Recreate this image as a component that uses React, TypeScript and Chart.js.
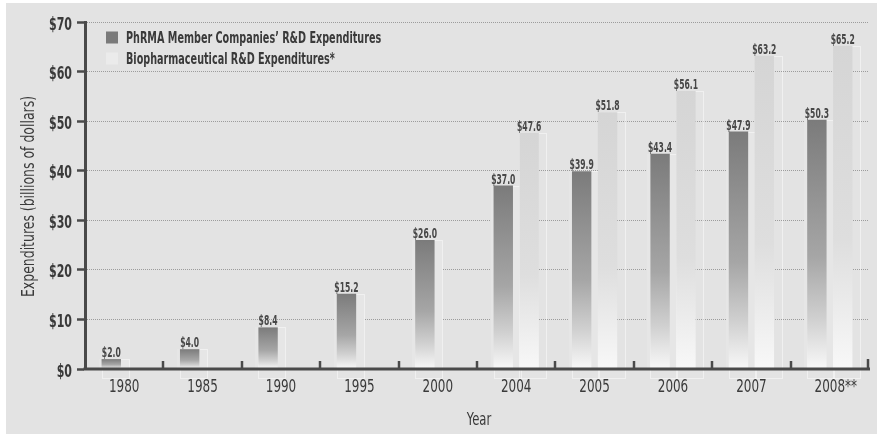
import React, { useEffect, useRef } from "react";
import { Chart, registerables } from "chart.js";

Chart.register(...registerables);

// R&D spending, billions of US dollars
const years = ["1980", "1985", "1990", "1995", "2000", "2004", "2005", "2006", "2007", "2008**"];
const phrmaSpending = [2.0, 4.0, 8.4, 15.2, 26.0, 37.0, 39.9, 43.4, 47.9, 50.3];
const biopharmaSpending = [null, null, null, null, null, 47.6, 51.8, 56.1, 63.2, 65.2];
const yTickValues = [0, 10, 20, 30, 40, 50, 60, 70];
const seriesLabels = [
  "PhRMA Member Companies’ R&D Expenditures",
  "Biopharmaceutical R&D Expenditures*",
];
const xTitle = "Year";
const yTitle = "Expenditures (billions of dollars)";

const FONT = "'DejaVu Sans Condensed', 'Liberation Sans Narrow', 'Liberation Sans', sans-serif";
const AXIS_COLOR = "#4a4a4a";
const TEXT_COLOR = "#3a3a3a";
const BG = "#e3e3e3";

const PHRMA_STOPS: [number, string][] = [
  [0, "#7b7b7b"],
  [0.55, "#a6a6a6"],
  [0.8, "#d0d0d0"],
  [1, "#f8f8f8"],
];
const BIO_STOPS: [number, string][] = [
  [0, "#d5d5d5"],
  [0.6, "#dedede"],
  [1, "#f8f8f8"],
];
const LEGEND_SWATCHES = ["#7a7a7a", "#ebebeb"];

// vertical fade from the top of each column down to the baseline
function columnFill(stops: [number, string][]) {
  return (ctx: any) => {
    const chart = ctx.chart;
    const y = chart.scales && chart.scales.y;
    if (!chart.chartArea || !y || ctx.raw == null) return stops[0][1];
    const top = y.getPixelForValue(ctx.raw);
    const base = y.getPixelForValue(0);
    if (!(base > top)) return stops[0][1];
    const g = chart.ctx.createLinearGradient(0, top, 0, base);
    stops.forEach(([o, c]) => g.addColorStop(o, c));
    return g;
  };
}

// text squeezed horizontally to imitate a condensed typeface
function narrowText(
  ctx: CanvasRenderingContext2D,
  text: string,
  x: number,
  y: number,
  sx: number,
  align: CanvasTextAlign,
  rotation = 0
) {
  ctx.save();
  ctx.translate(x, y);
  if (rotation) ctx.rotate(rotation);
  ctx.scale(sx, 1);
  ctx.textAlign = align;
  ctx.fillText(text, 0, 0);
  ctx.restore();
}

const decorations = {
  id: "decorations",
  beforeDatasetsDraw(chart: any) {
    // pale backing panel beside the first series and a faint offset outline behind every column
    const ctx = chart.ctx;
    const base = chart.chartArea.bottom;
    ctx.save();
    chart.data.datasets.forEach((ds: any, i: number) => {
      chart.getDatasetMeta(i).data.forEach((bar: any, j: number) => {
        if (ds.data[j] == null) return;
        const { x, y, width } = bar.getProps(["x", "y", "width"], true);
        const l = Math.round(x - width / 2);
        const t = Math.round(y);
        if (i === 0) {
          ctx.fillStyle = "#e6e6e6";
          ctx.fillRect(l - 3, t, Math.round(width + 11), base - t);
        }
        ctx.strokeStyle = "rgba(255,255,255,0.45)";
        ctx.lineWidth = 1;
        ctx.strokeRect(l + 0.5, t + 0.5, Math.round(width + 8), Math.round(base + 9 - y));
      });
    });
    ctx.restore();
  },
  afterDatasetsDraw(chart: any) {
    const ctx: CanvasRenderingContext2D = chart.ctx;
    const { left, right, top, bottom } = chart.chartArea;
    const xScale = chart.scales.x;
    const yScale = chart.scales.y;
    ctx.save();

    // x axis line on top of the columns
    ctx.strokeStyle = AXIS_COLOR;
    ctx.lineWidth = 3;
    ctx.beginPath();
    ctx.moveTo(left - 1.5, bottom);
    ctx.lineTo(right + 1, bottom);
    ctx.stroke();

    // upward tick marks between categories
    const n = years.length;
    const step = (xScale.right - xScale.left) / n;
    ctx.lineWidth = 2.5;
    for (let i = 1; i <= n; i++) {
      const px = Math.round(xScale.left + i * step) - (i === n ? 1 : 0);
      const len = i === n ? 10 : 8;
      ctx.beginPath();
      ctx.moveTo(px, bottom);
      ctx.lineTo(px, bottom - len);
      ctx.stroke();
    }

    // value labels above the columns
    ctx.fillStyle = "#474747";
    ctx.font = `bold 13.5px ${FONT}`;
    ctx.textBaseline = "alphabetic";
    chart.data.datasets.forEach((ds: any, i: number) => {
      chart.getDatasetMeta(i).data.forEach((bar: any, j: number) => {
        const v = ds.data[j];
        if (v == null) return;
        const { x, y } = bar.getProps(["x", "y"], true);
        narrowText(ctx, `$${v.toFixed(1)}`, x, y - 2, 0.63, "center");
      });
    });

    // y tick labels
    ctx.fillStyle = TEXT_COLOR;
    ctx.font = `bold 17.5px ${FONT}`;
    ctx.textBaseline = "middle";
    yScale.ticks.forEach((t: any, i: number) => {
      const py = yScale.getPixelForTick(i);
      narrowText(ctx, `$${t.value}`, yScale.right - 13, py + 3, 0.7, "right");
    });

    // x tick labels, centred on the year digits
    ctx.font = `18.5px ${FONT}`;
    ctx.textBaseline = "middle";
    years.forEach((label, i) => {
      const px = xScale.getPixelForTick(i);
      const core = label.replace(/\*+$/, "");
      const w = ctx.measureText(core).width * 0.72;
      narrowText(ctx, label, px - w / 2, bottom + 18, 0.72, "left");
    });

    // axis titles
    ctx.font = `18px ${FONT}`;
    ctx.textBaseline = "alphabetic";
    narrowText(ctx, xTitle, (left + right) / 2 + 2, bottom + 56, 0.72, "center");
    narrowText(ctx, yTitle, 27.5, (top + bottom) / 2 + 1, 0.77, "center", -Math.PI / 2);

    // legend in the upper-left corner of the plot
    ctx.font = `bold 16px ${FONT}`;
    ctx.textBaseline = "alphabetic";
    seriesLabels.forEach((label, i) => {
      const baseY = top + 21 + i * 21;
      ctx.fillStyle = LEGEND_SWATCHES[i];
      ctx.fillRect(left + 21, baseY - 11.5, 12, 12);
      ctx.fillStyle = TEXT_COLOR;
      narrowText(ctx, label, left + 41, baseY, 0.67, "left");
    });

    ctx.restore();
  },
};

export default function App() {
  const canvasRef = useRef<HTMLCanvasElement | null>(null);

  useEffect(() => {
    if (!canvasRef.current) return;
    const chart = new Chart(canvasRef.current, {
      type: "bar",
      data: {
        labels: years,
        datasets: [
          {
            label: seriesLabels[0],
            data: phrmaSpending,
            backgroundColor: columnFill(PHRMA_STOPS),
            borderWidth: 0,
            categoryPercentage: 0.66,
            barPercentage: 0.75,
          },
          {
            label: seriesLabels[1],
            data: biopharmaSpending,
            backgroundColor: columnFill(BIO_STOPS),
            borderWidth: 0,
            categoryPercentage: 0.66,
            barPercentage: 0.75,
          },
        ],
      },
      options: {
        animation: false,
        responsive: true,
        maintainAspectRatio: false,
        layout: { padding: { top: 19, right: 8, left: 0, bottom: 0 } },
        plugins: {
          legend: { display: false },
          tooltip: { enabled: false },
        },
        scales: {
          x: {
            offset: true,
            grid: { display: false, drawTicks: false },
            border: { display: false },
            ticks: { display: false, autoSkip: false },
            afterFit: (s: any) => {
              s.height = 65;
            },
          },
          y: {
            min: 0,
            max: 70,
            afterBuildTicks: (s: any) => {
              s.ticks = yTickValues.map((v) => ({ value: v }));
            },
            grid: {
              color: (c: any) => (c.tick && c.tick.value === 0 ? "rgba(0,0,0,0)" : "#9c9c9c"),
              lineWidth: 1,
              tickColor: AXIS_COLOR,
              tickWidth: 2.5,
              tickLength: 8,
            },
            border: { display: true, color: AXIS_COLOR, width: 3, dash: [1, 1] },
            ticks: { display: false },
            afterFit: (s: any) => {
              s.width = 79;
            },
          },
        },
      },
      plugins: [decorations],
    });
    return () => chart.destroy();
  }, []);

  return (
    <div style={{ position: "absolute", left: 0, top: 0, width: 877, height: 434, background: "#ffffff" }}>
      <div style={{ position: "absolute", left: 6, top: 3, width: 871, height: 431, background: BG }}>
        <canvas ref={canvasRef} />
      </div>
    </div>
  );
}
